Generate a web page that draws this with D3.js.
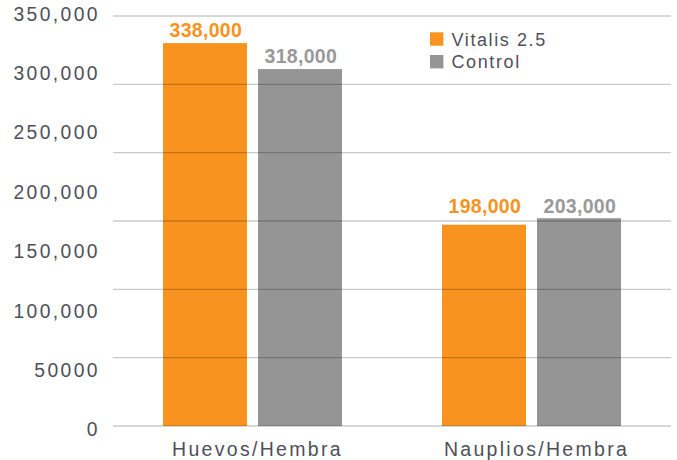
<!DOCTYPE html>
<html>
<head>
<meta charset="utf-8">
<script src="https://cdn.jsdelivr.net/npm/d3@7"></script>
<style>
  html, body { margin: 0; padding: 0; background: #fff; }
  svg { display: block; }
  text { font-family: "Liberation Sans", Arial, Helvetica, sans-serif; }
</style>
</head>
<body>
<svg id="chart" width="677" height="460"></svg>
<script>
// ---- data ----
const categories = ["Huevos/Hembra", "Nauplios/Hembra"];
const seriesNames = ["Vitalis 2.5", "Control"];
const vitalisValues = [338000, 198000];
const controlValues = [318000, 203000];
const valueLabels = [["338,000", "198,000"], ["318,000", "203,000"]];
const tickValues = [0, 50000, 100000, 150000, 200000, 250000, 300000, 350000];
const tickLabels = ["0", "50000", "100,000", "150,000", "200,000", "250,000", "300,000", "350,000"];
const colors = ["#F7931E", "#959595"];
const labelColors = ["#F7931E", "#999999"];

// ---- layout ----
const svg = d3.select("#chart");
const plotLeft = 113, plotRight = 671, baseY = 426, topY = 16;

const x0 = d3.scaleBand().domain(categories).range([plotLeft, plotRight]).padding(0);
const barW = 84, barGap = 11;
const x1 = d3.scaleBand().domain(seriesNames)
  .range([-(barW + barGap / 2), barW + barGap / 2])
  .paddingInner(barGap / (barW + barGap)).paddingOuter(0);

// scale used for the bars (as drawn in the reference)
const yBar = d3.scaleLinear().domain([42800, 358900]).range([baseY, topY]);
// scale used for the tick labels
const yTick = d3.scaleLinear().domain([0, 350000]).range([429.3, 13.8]);

const series = [vitalisValues, controlValues];
const bars = [];
categories.forEach((c, ci) => {
  seriesNames.forEach((s, si) => {
    bars.push({ cat: c, ci, s, si, v: series[si][ci], label: valueLabels[si][ci] });
  });
});

// bars
svg.append("g").selectAll("rect").data(bars).join("rect")
  .attr("x", d => x0(d.cat) + x0.bandwidth() / 2 + x1(d.s))
  .attr("y", d => yBar(d.v))
  .attr("width", x1.bandwidth())
  .attr("height", d => baseY - yBar(d.v))
  .attr("fill", d => colors[d.si]);

// gridlines (drawn over bars, semi-transparent)
const gridVals = d3.range(7).map(i => yBar.domain()[0] + i * (yBar.domain()[1] - yBar.domain()[0]) / 6);
svg.append("g").selectAll("line").data(gridVals).join("line")
  .attr("x1", plotLeft).attr("x2", plotRight)
  .attr("y1", d => yBar(d)).attr("y2", d => yBar(d))
  .attr("stroke", "rgba(0,0,0,0.21)")
  .attr("stroke-width", 1.4);

// y tick labels
svg.append("g").selectAll("text").data(tickValues).join("text")
  .attr("x", 97.5 + 2.4)
  .attr("y", d => yTick(d))
  .attr("dy", "0.36em")
  .attr("text-anchor", "end")
  .attr("font-size", 19.3)
  .attr("letter-spacing", 2.4)
  .attr("fill", "#4f4f59")
  .text((d, i) => tickLabels[i]);

// value labels
function labelY(d) {
  const other = bars.find(b => b.ci === d.ci && b.si !== d.si);
  const top = Math.min(yBar(d.v), yBar(other.v));
  if (Math.abs(yBar(d.v) - yBar(other.v)) < 10) return top - 5.5;
  return yBar(d.v) - 6;
}
svg.append("g").selectAll("text").data(bars).join("text")
  .attr("x", d => x0(d.cat) + x0.bandwidth() / 2 + x1(d.s) + x1.bandwidth() / 2 + 0.8)
  .attr("y", labelY)
  .attr("text-anchor", "middle")
  .attr("font-size", 19.5)
  .attr("font-weight", "bold")
  .attr("letter-spacing", 0.3)
  .attr("fill", d => labelColors[d.si])
  .text(d => d.label);

// category labels
svg.append("g").selectAll("text").data(categories).join("text")
  .attr("x", d => x0(d) + x0.bandwidth() / 2 + 5)
  .attr("y", 455.5)
  .attr("text-anchor", "middle")
  .attr("font-size", 19.5)
  .attr("letter-spacing", 2.3)
  .attr("fill", "#4f4f59")
  .text(d => d);

// legend
const legend = svg.append("g").attr("transform", "translate(430,32.3)");
const li = legend.selectAll("g").data(seriesNames).join("g")
  .attr("transform", (d, i) => `translate(0,${i * 22.7})`);
li.append("rect").attr("width", 13.4).attr("height", 13.4)
  .attr("fill", (d, i) => colors[i]);
li.append("text").attr("x", 21.5).attr("y", 13.3)
  .attr("font-size", 18)
  .attr("letter-spacing", 1.6)
  .attr("fill", "#4f4f59")
  .text(d => d);
</script>
</body>
</html>
